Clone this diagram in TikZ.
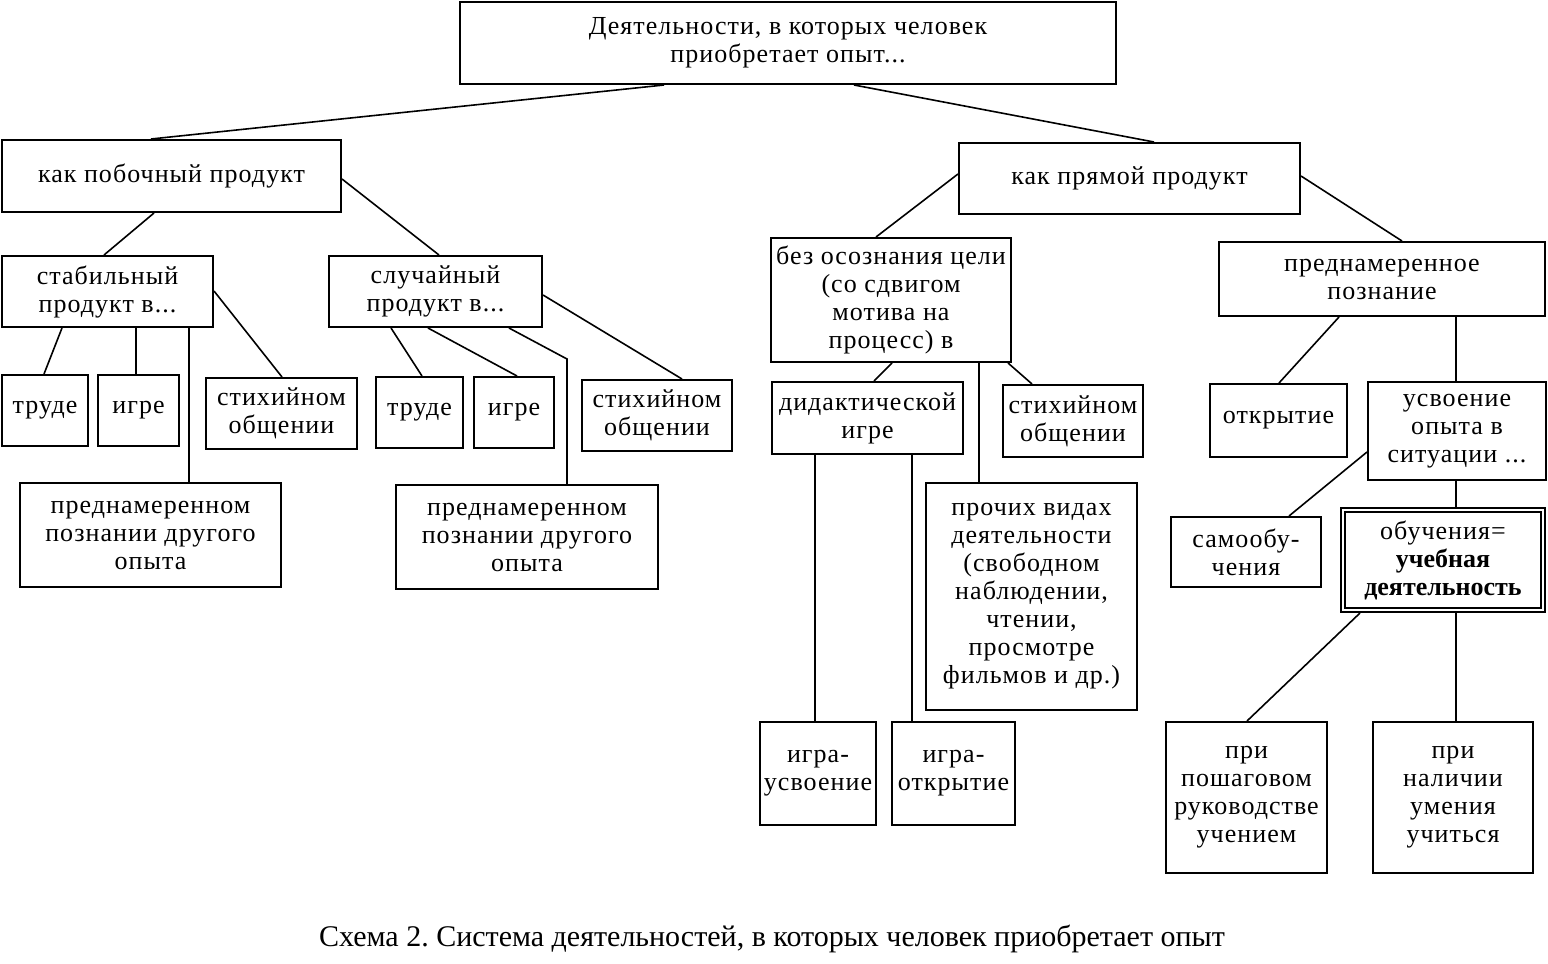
\documentclass[tikz,border=0pt]{standalone}
\usepackage{fontspec}
\setmainfont{Liberation Serif}
\newfontfamily\boxfont[LetterSpace=4]{Liberation Serif}
\newfontfamily\plainfont{Liberation Serif}
\begin{document}
\frenchspacing
\begin{tikzpicture}[x=0.5pt,y=-0.5pt,
  box/.style={draw,line width=1pt,inner sep=0pt,align=center,font=\boxfont\fontsize{13}{14}\selectfont},
  conn/.style={line width=0.8pt},
  capt/.style={inner sep=0pt,font=\plainfont\fontsize{15}{17}\selectfont}]
\useasboundingbox (0,0) rectangle (1548,964);
\newcommand\bx[6]{%
  \pgfmathsetmacro\bw{(#4-#2)*0.5}%
  \pgfmathsetmacro\bh{(#5-#3)*0.5}%
  \node[box,minimum width=\bw pt,minimum height=\bh pt] (#1) at ({(#2+#4)/2},{(#3+#5)/2}) {#6};}
% boxes
\bx{T}{460}{2}{1116}{84}{Деятельности, в которых человек\\приобретает опыт...}
\bx{A}{2}{140}{341}{212}{как побочный продукт}
\bx{B}{959}{143}{1300}{214}{как прямой продукт}
\bx{S1}{2}{256}{213}{327}{стабильный\\продукт в...}
\bx{S2}{329}{256}{542}{327}{случайный\\продукт в...}
\bx{Tr1}{2}{375}{88}{446}{труде}
\bx{Ig1}{98}{375}{179}{446}{игре}
\bx{St1}{206}{378}{357}{449}{стихийном\\общении}
\bx{P1}{20}{483}{281}{587}{преднамеренном\\познании другого\\опыта}
\bx{Tr2}{376}{377}{463}{448}{труде}
\bx{Ig2}{474}{377}{554}{448}{игре}
\bx{St2}{582}{380}{732}{451}{стихийном\\общении}
\bx{P2}{396}{485}{658}{589}{преднамеренном\\познании другого\\опыта}
\bx{N1}{771}{238}{1011}{362}{без осознания цели\\(со сдвигом\\мотива на\\процесс) в}
\bx{N2}{1219}{242}{1545}{316}{преднамеренное\\познание}
\bx{D}{772}{382}{963}{454}{дидактической\\игре}
\bx{St3}{1003}{385}{1143}{457}{стихийном\\общении}
\bx{Pr}{926}{483}{1137}{710}{прочих видах\\деятельности\\(свободном\\наблюдении,\\чтении,\\просмотре\\фильмов и др.)}
\bx{Gu}{760}{722}{876}{825}{игра-\\усвоение}
\bx{Go}{892}{722}{1015}{825}{игра-\\открытие}
\bx{O}{1210}{384}{1347}{457}{открытие}
\bx{U}{1368}{382}{1546}{480}{усвоение\\опыта в\\ситуации ...}
\bx{Sm}{1171}{517}{1321}{587}{самообу-\\чения}
\bx{L}{1341}{508}{1545}{612}{обучения=\\{\plainfont\bfseries учебная}\\{\plainfont\bfseries деятельность}}
\draw[line width=1pt] ([shift={(5,5)}]L.north west) rectangle ([shift={(-5,-5)}]L.south east);
\bx{Ps}{1166}{722}{1327}{873}{при\\пошаговом\\руководстве\\учением}
\bx{Pn}{1373}{722}{1533}{873}{при\\наличии\\умения\\учиться}
% connectors
\draw[conn] ([shift={(205,0)}]T.south west) -- ([shift={(150,0)}]A.north west);
\draw[conn] ([shift={(395,0)}]T.south west) -- ([shift={(196,0)}]B.north west);
\draw[conn] ([shift={(153,0)}]A.south west) -- ([shift={(103,0)}]S1.north west);
\draw[conn] ([shift={(0,40)}]A.north east) -- ([shift={(111,0)}]S2.north west);
\draw[conn] ([shift={(61,0)}]S1.south west) -- ([shift={(43,0)}]Tr1.north west);
\draw[conn] ([shift={(135,0)}]S1.south west) -- ([shift={(39,0)}]Ig1.north west);
\draw[conn] ([shift={(188,0)}]S1.south west) -- ([shift={(170,0)}]P1.north west);
\draw[conn] ([shift={(0,36)}]S1.north east) -- ([shift={(77,0)}]St1.north west);
\draw[conn] ([shift={(63,0)}]S2.south west) -- ([shift={(47,0)}]Tr2.north west);
\draw[conn] ([shift={(100,0)}]S2.south west) -- ([shift={(44,0)}]Ig2.north west);
\draw[conn] ([shift={(181,0)}]S2.south west) -- ([shift={(172,-125)}]P2.north west) -- ([shift={(172,0)}]P2.north west);
\draw[conn] ([shift={(0,40)}]S2.north east) -- ([shift={(101,0)}]St2.north west);
\draw[conn] ([shift={(0,32)}]B.north west) -- ([shift={(106,0)}]N1.north west);
\draw[conn] ([shift={(0,34)}]B.north east) -- ([shift={(184,0)}]N2.north west);
\draw[conn] ([shift={(122,0)}]N1.south west) -- ([shift={(103,0)}]D.north west);
\draw[conn] ([shift={(209,0)}]N1.south west) -- ([shift={(54,0)}]Pr.north west);
\draw[conn] ([shift={(238,0)}]N1.south west) -- ([shift={(30,0)}]St3.north west);
\draw[conn] ([shift={(44,0)}]D.south west) -- ([shift={(56,0)}]Gu.north west);
\draw[conn] ([shift={(141,0)}]D.south west) -- ([shift={(21,0)}]Go.north west);
\draw[conn] ([shift={(121,0)}]N2.south west) -- ([shift={(70,0)}]O.north west);
\draw[conn] ([shift={(238,0)}]N2.south west) -- ([shift={(89,0)}]U.north west);
\draw[conn] ([shift={(0,71)}]U.north west) -- ([shift={(119,0)}]Sm.north west);
\draw[conn] ([shift={(89,0)}]U.south west) -- ([shift={(116,0)}]L.north west);
\draw[conn] ([shift={(20,0)}]L.south west) -- ([shift={(82,0)}]Ps.north west);
\draw[conn] ([shift={(116,0)}]L.south west) -- ([shift={(84,0)}]Pn.north west);
% caption
\node[capt] (cap) at (772,939) {Схема 2. Система деятельностей, в которых человек приобретает опыт};
\end{tikzpicture}
\end{document}
